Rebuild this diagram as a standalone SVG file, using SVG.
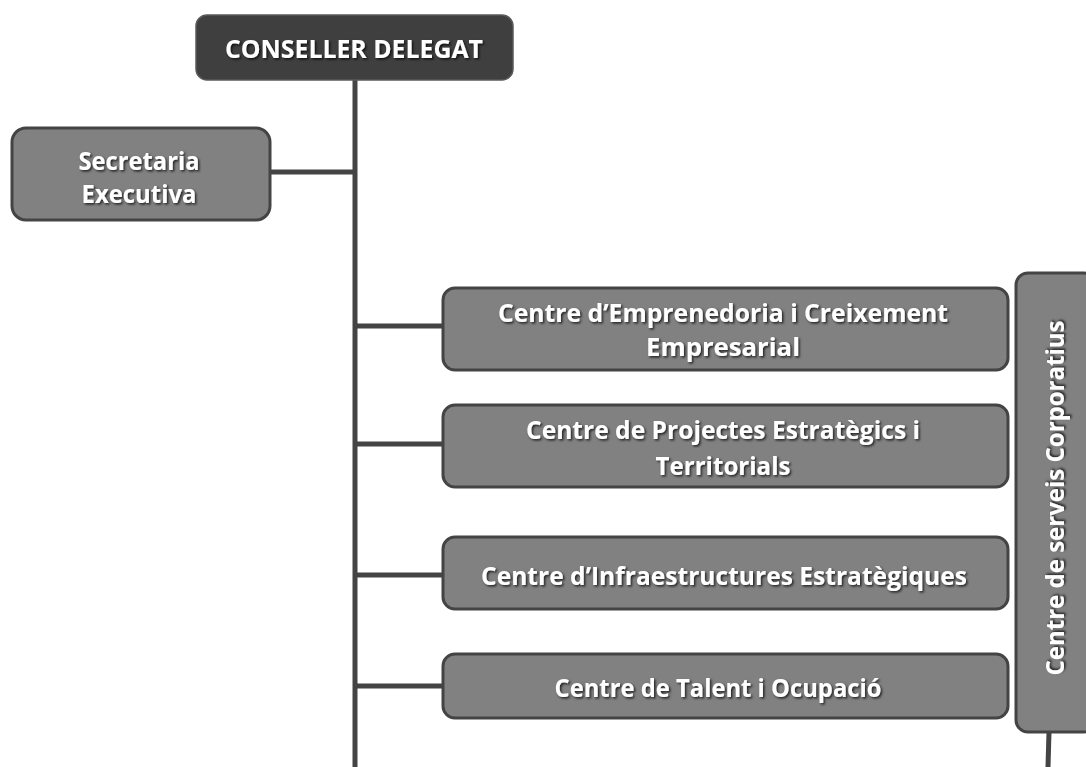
<svg xmlns="http://www.w3.org/2000/svg" width="1086" height="767" viewBox="0 0 1086 767">
<style>
.box{fill:#818181;stroke:#444;stroke-width:3}
.top{fill:#3f3f3f;stroke:#5a5a5a;stroke-width:1.5}
.t{font-family:"Open Sans","Noto Sans",sans-serif;font-weight:bold;fill:#fff;text-anchor:middle;font-size:25px;filter:url(#sh)}
.c{stroke:#444;stroke-width:5;fill:none}
</style>
<defs>
<filter id="sh" x="-10%" y="-30%" width="120%" height="160%">
<feDropShadow dx="1.5" dy="1.5" stdDeviation="1" flood-color="#000" flood-opacity="0.75"/>
</filter>
</defs>
<rect width="1086" height="767" fill="#fff"/>
<g id="connectors">
<line class="c" x1="355" y1="80" x2="355" y2="767"/>
<line class="c" x1="270" y1="172" x2="355" y2="172"/>
<line class="c" x1="355" y1="326" x2="443" y2="326"/>
<line class="c" x1="355" y1="444" x2="443" y2="444"/>
<line class="c" x1="355" y1="575" x2="443" y2="575"/>
<line class="c" x1="355" y1="686" x2="443" y2="686"/>
<line class="c" x1="1049" y1="732" x2="1048" y2="767"/>
</g>
<g id="conseller">
<rect class="top" x="196" y="15" width="317" height="65" rx="11"/>
<text class="t" x="354" y="58" font-size="27" textLength="258" lengthAdjust="spacingAndGlyphs">CONSELLER DELEGAT</text>
</g>
<g id="secretaria">
<rect class="box" x="12" y="128" width="258" height="92" rx="14"/>
<text class="t" x="139" y="170" textLength="121" lengthAdjust="spacingAndGlyphs">Secretaria</text>
<text class="t" x="139" y="203" textLength="115" lengthAdjust="spacingAndGlyphs">Executiva</text>
</g>
<g id="emprenedoria">
<rect class="box" x="443" y="288" width="565" height="82" rx="12"/>
<text class="t" x="723" y="322" textLength="450" lengthAdjust="spacingAndGlyphs">Centre d’Emprenedoria i Creixement</text>
<text class="t" x="723" y="356" textLength="154" lengthAdjust="spacingAndGlyphs">Empresarial</text>
</g>
<g id="projectes">
<rect class="box" x="443" y="405" width="565" height="82" rx="12"/>
<text class="t" x="723" y="439" textLength="394" lengthAdjust="spacingAndGlyphs">Centre de Projectes Estratègics i</text>
<text class="t" x="723" y="475" textLength="135" lengthAdjust="spacingAndGlyphs">Territorials</text>
</g>
<g id="infraestructures">
<rect class="box" x="443" y="537" width="565" height="72" rx="12"/>
<text class="t" x="724" y="585" textLength="486" lengthAdjust="spacingAndGlyphs">Centre d’Infraestructures Estratègiques</text>
</g>
<g id="talent">
<rect class="box" x="443" y="654" width="565" height="64" rx="12"/>
<text class="t" x="718" y="697" textLength="327" lengthAdjust="spacingAndGlyphs">Centre de Talent i Ocupació</text>
</g>
<g id="serveis">
<rect class="box" x="1016" y="273" width="80" height="459" rx="12"/>
<text class="t" transform="translate(1064,498) rotate(-90)" x="0" y="0" font-size="27" textLength="355" lengthAdjust="spacingAndGlyphs">Centre de serveis Corporatius</text>
</g>
</svg>
